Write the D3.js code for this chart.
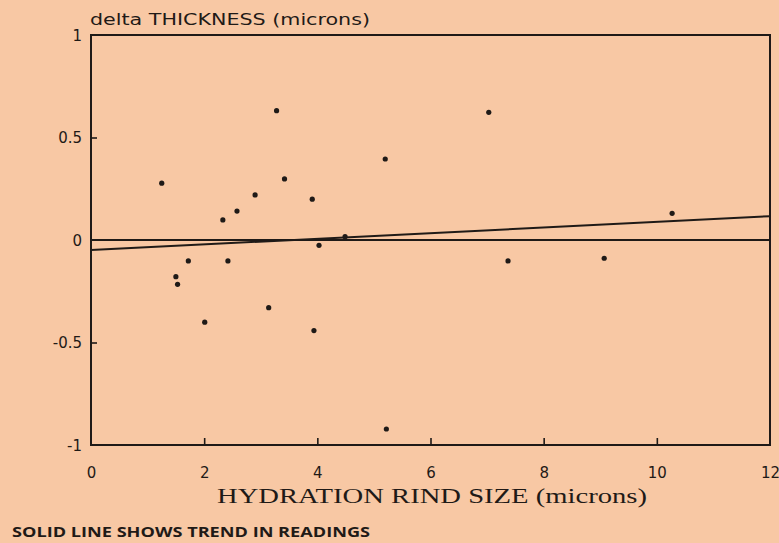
<!DOCTYPE html>
<html>
<head>
<meta charset="utf-8">
<script src="https://cdn.jsdelivr.net/npm/d3@7"></script>
<style>
  html, body { margin: 0; padding: 0; background: #f8c8a4; }
  svg { display: block; }
</style>
</head>
<body>
<svg id="chart" width="779" height="543"></svg>
<script>
// ---- data ----
const rindSize = [1.25, 3.28, 3.42, 2.90, 3.91, 5.20, 7.03, 10.27, 7.37, 9.07,
                  2.58, 2.33, 1.72, 2.42, 1.50, 1.53, 2.01, 3.14, 3.94, 4.03, 4.49, 5.22];
const deltaThickness = [0.277, 0.631, 0.298, 0.220, 0.199, 0.395, 0.623, 0.130, -0.102, -0.089,
                  0.141, 0.098, -0.102, -0.102, -0.179, -0.216, -0.401, -0.330, -0.442, -0.026, 0.016, -0.922];
const trendX = [0, 12];
const trendY = [-0.049, 0.116];
const xTicks = [0, 2, 4, 6, 8, 10, 12];
const yTicks = [-1, -0.5, 0, 0.5, 1];
const yTitle = "delta THICKNESS (microns)";
const xTitle = "HYDRATION RIND SIZE (microns)";
const footnote = "SOLID LINE SHOWS TREND IN READINGS";

// ---- layout ----
const svg = d3.select("#chart");
const ink = "#1f1a17";
const mLeft = 91, mRight = 770, mTop = 35, mBottom = 445;

const x = d3.scaleLinear().domain([0, 12]).range([mLeft, mRight]);
const y = d3.scaleLinear().domain([-1, 1]).range([mBottom, mTop]);

// frame
svg.append("rect")
  .attr("x", mLeft).attr("y", mTop)
  .attr("width", mRight - mLeft).attr("height", mBottom - mTop)
  .attr("fill", "none").attr("stroke", ink).attr("stroke-width", 2);

// x axis ticks (inward) + labels
const xAxis = d3.axisBottom(x).tickValues(xTicks).tickSize(0).tickPadding(0)
  .tickFormat(d3.format("d"));
const gx = svg.append("g").attr("transform", `translate(0,${mBottom})`).call(xAxis);
gx.select(".domain").remove();
gx.selectAll("text").attr("y", 33).attr("dy", 0)
  .style("font-family", "'DejaVu Sans', sans-serif").style("font-size", "15px")
  .attr("fill", ink);
gx.selectAll(".tick").filter(d => d > 0 && d < 12).append("line")
  .attr("y1", 0).attr("y2", -7).attr("stroke", ink).attr("stroke-width", 1.6);

// y axis ticks (inward) + labels
const yAxis = d3.axisLeft(y).tickValues(yTicks).tickSize(0).tickPadding(0)
  .tickFormat(d => String(d));
const gy = svg.append("g").attr("transform", `translate(${mLeft},0)`).call(yAxis);
gy.select(".domain").remove();
gy.selectAll("text").attr("x", -9).attr("dy", "0.36em")
  .style("font-family", "'DejaVu Sans', sans-serif").style("font-size", "15px")
  .attr("fill", ink);
gy.selectAll(".tick").filter(d => d > -1 && d < 1 && d !== 0).append("line")
  .attr("x1", 0).attr("x2", 6).attr("stroke", ink).attr("stroke-width", 1.6);

// zero line
svg.append("line")
  .attr("x1", x(0)).attr("x2", x(12)).attr("y1", y(0)).attr("y2", y(0))
  .attr("stroke", ink).attr("stroke-width", 1.8);

// trend line
const line = d3.line().x(d => x(d[0])).y(d => y(d[1]));
svg.append("path")
  .datum(d3.zip(trendX, trendY))
  .attr("d", line).attr("fill", "none").attr("stroke", ink).attr("stroke-width", 2);

// points
svg.append("g").selectAll("circle")
  .data(d3.zip(rindSize, deltaThickness))
  .join("circle")
  .attr("cx", d => x(d[0])).attr("cy", d => y(d[1])).attr("r", 2.6)
  .attr("fill", ink);

// titles
svg.append("text").attr("x", 90).attr("y", 25)
  .attr("textLength", 280).attr("lengthAdjust", "spacingAndGlyphs")
  .style("font-family", "'DejaVu Sans', sans-serif").style("font-size", "16px")
  .attr("fill", ink).text(yTitle);

svg.append("text").attr("x", 217).attr("y", 503)
  .attr("textLength", 430).attr("lengthAdjust", "spacingAndGlyphs")
  .style("font-family", "'Liberation Serif', serif").style("font-size", "22px")
  .attr("fill", ink).text(xTitle);

svg.append("text").attr("x", 12).attr("y", 537)
  .attr("textLength", 358).attr("lengthAdjust", "spacingAndGlyphs")
  .style("font-family", "'Open Sans', sans-serif").style("font-size", "14px")
  .style("font-weight", "700")
  .attr("fill", ink).text(footnote);
</script>
</body>
</html>
